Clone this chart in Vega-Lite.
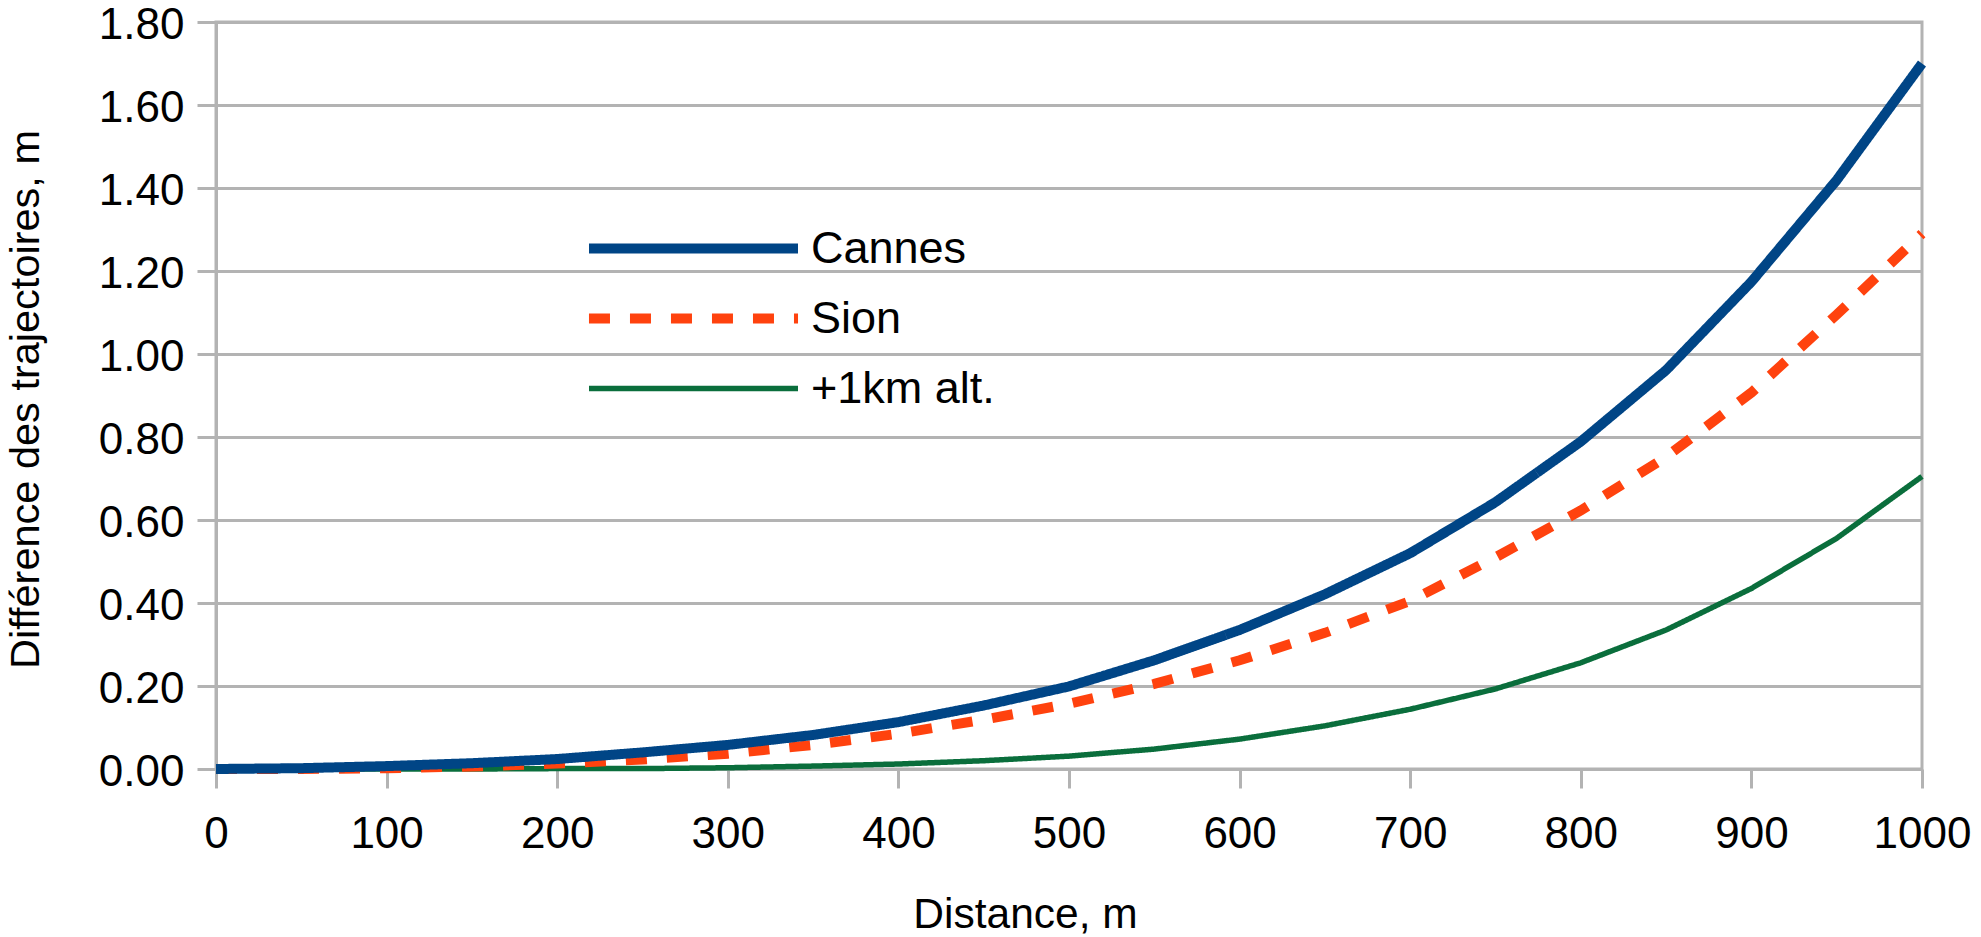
{
  "$schema": "https://vega.github.io/schema/vega-lite/v6.json",
  "width": 1706,
  "height": 747,
  "autosize": {"type": "none"},
  "padding": {"left": 216, "top": 22, "right": 59, "bottom": 168},
  "background": "white",
  "config": {
    "view": {"stroke": "#b3b3b3", "strokeWidth": 3},
    "font": "Liberation Sans",
    "axis": {
      "labelFont": "Liberation Sans",
      "titleFont": "Liberation Sans",
      "labelColor": "#000000",
      "titleColor": "#000000",
      "titleFontWeight": "normal",
      "domainColor": "#b3b3b3",
      "domainWidth": 3,
      "tickColor": "#b3b3b3",
      "tickWidth": 3,
      "tickSize": 19,
      "gridColor": "#b3b3b3",
      "gridWidth": 3,
      "labelFontSize": 44,
      "titleFontSize": 41
    }
  },
  "datasets": {
    "curves": [
      {"series": "+1km alt.", "distance": 0, "diff": 0},
      {"series": "+1km alt.", "distance": 50, "diff": 0},
      {"series": "+1km alt.", "distance": 100, "diff": 0},
      {"series": "+1km alt.", "distance": 150, "diff": 0},
      {"series": "+1km alt.", "distance": 200, "diff": 0.001},
      {"series": "+1km alt.", "distance": 250, "diff": 0.001},
      {"series": "+1km alt.", "distance": 300, "diff": 0.003},
      {"series": "+1km alt.", "distance": 350, "diff": 0.007},
      {"series": "+1km alt.", "distance": 400, "diff": 0.012},
      {"series": "+1km alt.", "distance": 450, "diff": 0.02},
      {"series": "+1km alt.", "distance": 500, "diff": 0.031},
      {"series": "+1km alt.", "distance": 550, "diff": 0.048},
      {"series": "+1km alt.", "distance": 600, "diff": 0.072},
      {"series": "+1km alt.", "distance": 650, "diff": 0.104},
      {"series": "+1km alt.", "distance": 700, "diff": 0.144},
      {"series": "+1km alt.", "distance": 750, "diff": 0.193},
      {"series": "+1km alt.", "distance": 800, "diff": 0.256},
      {"series": "+1km alt.", "distance": 850, "diff": 0.335},
      {"series": "+1km alt.", "distance": 900, "diff": 0.435},
      {"series": "+1km alt.", "distance": 950, "diff": 0.556},
      {"series": "+1km alt.", "distance": 1000, "diff": 0.705},
      {"series": "Sion", "distance": 0, "diff": 0},
      {"series": "Sion", "distance": 50, "diff": 0},
      {"series": "Sion", "distance": 100, "diff": 0.002},
      {"series": "Sion", "distance": 150, "diff": 0.006},
      {"series": "Sion", "distance": 200, "diff": 0.013},
      {"series": "Sion", "distance": 250, "diff": 0.023},
      {"series": "Sion", "distance": 300, "diff": 0.037},
      {"series": "Sion", "distance": 350, "diff": 0.058},
      {"series": "Sion", "distance": 400, "diff": 0.085},
      {"series": "Sion", "distance": 450, "diff": 0.119},
      {"series": "Sion", "distance": 500, "diff": 0.157},
      {"series": "Sion", "distance": 550, "diff": 0.205},
      {"series": "Sion", "distance": 600, "diff": 0.262},
      {"series": "Sion", "distance": 650, "diff": 0.328},
      {"series": "Sion", "distance": 700, "diff": 0.405},
      {"series": "Sion", "distance": 750, "diff": 0.51},
      {"series": "Sion", "distance": 800, "diff": 0.623},
      {"series": "Sion", "distance": 850, "diff": 0.752},
      {"series": "Sion", "distance": 900, "diff": 0.907},
      {"series": "Sion", "distance": 950, "diff": 1.095},
      {"series": "Sion", "distance": 1000, "diff": 1.29},
      {"series": "Cannes", "distance": 0, "diff": 0},
      {"series": "Cannes", "distance": 50, "diff": 0.002},
      {"series": "Cannes", "distance": 100, "diff": 0.007},
      {"series": "Cannes", "distance": 150, "diff": 0.014},
      {"series": "Cannes", "distance": 200, "diff": 0.024},
      {"series": "Cannes", "distance": 250, "diff": 0.04},
      {"series": "Cannes", "distance": 300, "diff": 0.058},
      {"series": "Cannes", "distance": 350, "diff": 0.082},
      {"series": "Cannes", "distance": 400, "diff": 0.113},
      {"series": "Cannes", "distance": 450, "diff": 0.153},
      {"series": "Cannes", "distance": 500, "diff": 0.199},
      {"series": "Cannes", "distance": 550, "diff": 0.262},
      {"series": "Cannes", "distance": 600, "diff": 0.335},
      {"series": "Cannes", "distance": 650, "diff": 0.421},
      {"series": "Cannes", "distance": 700, "diff": 0.52},
      {"series": "Cannes", "distance": 750, "diff": 0.643},
      {"series": "Cannes", "distance": 800, "diff": 0.789},
      {"series": "Cannes", "distance": 850, "diff": 0.961},
      {"series": "Cannes", "distance": 900, "diff": 1.174},
      {"series": "Cannes", "distance": 950, "diff": 1.419},
      {"series": "Cannes", "distance": 1000, "diff": 1.7}
    ]
  },
  "data": {"name": "curves"},
  "mark": {"type": "line", "strokeCap": "butt", "strokeJoin": "miter"},
  "encoding": {
    "x": {
      "field": "distance",
      "type": "quantitative",
      "scale": {"domain": [0, 1000], "nice": false, "zero": false},
      "axis": {
        "values": [0, 100, 200, 300, 400, 500, 600, 700, 800, 900, 1000],
        "format": "d",
        "grid": false,
        "labelPadding": 24,
        "labelFlush": false,
        "labelOverlap": false,
        "title": "Distance, m",
        "titleFontSize": 42.5,
        "titleX": 809,
        "titleY": 158,
        "titleAlign": "center",
        "titleBaseline": "alphabetic",
        "titleAnchor": null
      }
    },
    "y": {
      "field": "diff",
      "type": "quantitative",
      "scale": {"domain": [0, 1.8], "nice": false},
      "axis": {
        "values": [0, 0.2, 0.4, 0.6, 0.8, 1.0, 1.2, 1.4, 1.6, 1.8],
        "format": ".2f",
        "grid": true,
        "labelPadding": 13,
        "labelOffset": 3,
        "labelOverlap": false,
        "labelFlush": false,
        "title": "Différence des trajectoires, m",
        "titleFontSize": 41.5,
        "titleAngle": 270,
        "titleX": -178,
        "titleY": 377,
        "titleAlign": "center",
        "titleBaseline": "alphabetic",
        "titleAnchor": null
      }
    },
    "color": {
      "field": "series",
      "type": "nominal",
      "scale": {"domain": ["Cannes", "Sion", "+1km alt."], "range": ["#004586", "#ff420e", "#0a6e3c"]},
      "legend": {
        "orient": "none",
        "legendX": 455,
        "legendY": 204,
        "title": null,
        "symbolType": "M-10,0L10,0",
        "symbolSize": 437,
        "labelFontSize": 45,
        "labelFont": "Liberation Sans",
        "labelColor": "#000000",
        "labelOffset": 95,
        "labelLimit": 0,
        "padding": 0,
        "rowPadding": 24
      }
    },
    "strokeDash": {
      "field": "series",
      "type": "nominal",
      "scale": {"domain": ["Cannes", "Sion", "+1km alt."], "range": [[1, 0], [21, 20], [1, 0]]}
    },
    "strokeWidth": {
      "field": "series",
      "type": "nominal",
      "scale": {"type": "ordinal", "domain": ["Cannes", "Sion", "+1km alt."], "range": [10, 10, 5.5]}
    }
  }
}
